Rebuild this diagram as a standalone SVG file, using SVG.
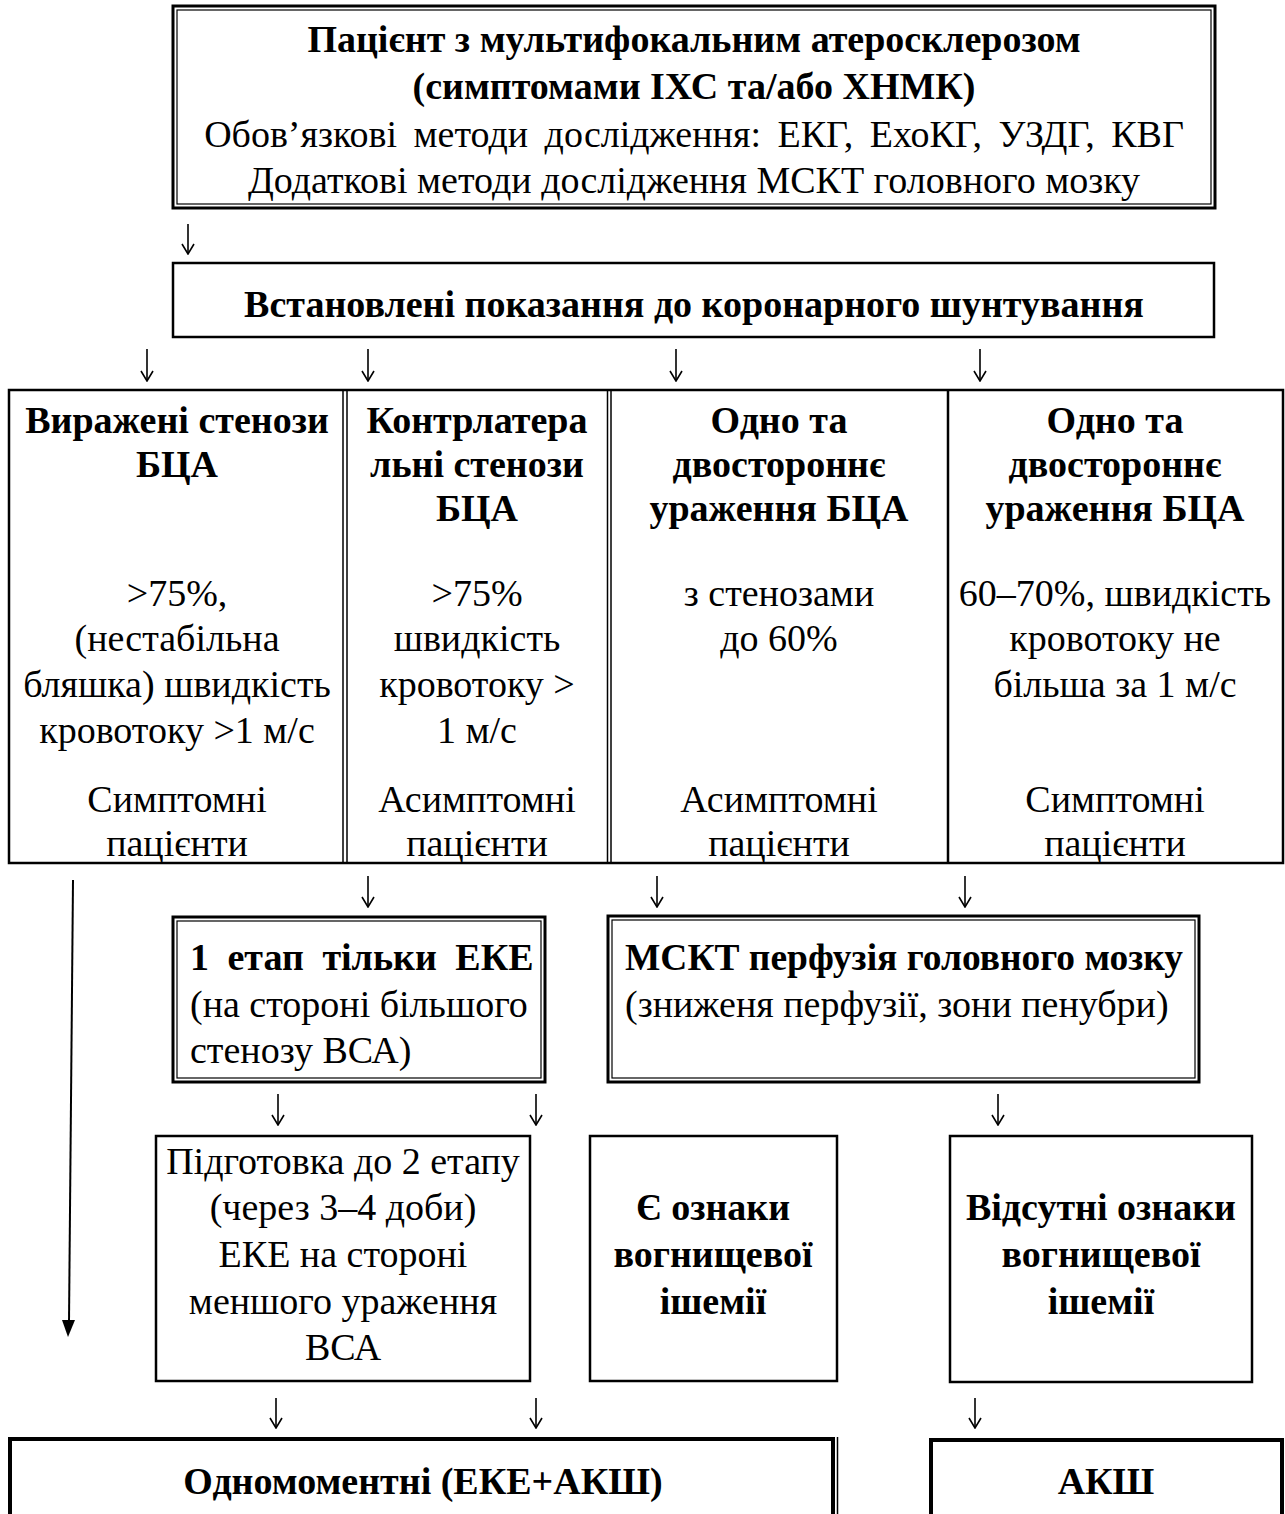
<svg xmlns="http://www.w3.org/2000/svg" width="1285" height="1514" viewBox="0 0 1285 1514">
<defs>
<style>
text{font-family:"Liberation Serif","Times New Roman",serif;font-size:38px;fill:#000}
.b{font-weight:bold}
.c{text-anchor:middle}
.box{fill:none;stroke:#000;stroke-width:2.5}
.thick{fill:none;stroke:#000;stroke-width:3}
.thin{fill:none;stroke:#000;stroke-width:1.2}
.heavy{fill:none;stroke:#000;stroke-width:4}
.arr{fill:none;stroke:#000;stroke-width:1.6}
</style>
<marker id="ah" viewBox="0 0 12 14" refX="11" refY="7" markerWidth="12" markerHeight="14" markerUnits="userSpaceOnUse" orient="auto">
<path d="M1,1 L11,7 L1,13" fill="none" stroke="#000" stroke-width="1.6"/>
</marker>
</defs>
<rect width="1285" height="1514" fill="#fff"/>

<g id="n-patient">
<rect class="thick" x="173" y="6" width="1042" height="202"/>
<rect class="thin" x="177" y="10" width="1034" height="194"/>
<text class="b c" x="694" y="52">Пацієнт з мультифокальним атеросклерозом</text>
<text class="b c" x="694" y="99">(симптомами ІХС та/або ХНМК)</text>
<text class="c" x="694" y="147" word-spacing="7">Обов’язкові методи дослідження: ЕКГ, ЕхоКГ, УЗДГ, КВГ</text>
<text class="c" x="694" y="193">Додаткові методи дослідження МСКТ головного мозку</text>
</g>

<g id="n-indications">
<rect class="box" x="173" y="263" width="1041" height="74"/>
<text class="b c" x="694" y="317">Встановлені показання до коронарного шунтування</text>
</g>

<g id="n-row">
<rect class="box" x="9" y="390" width="1274" height="473"/>
<line x1="343" y1="390" x2="343" y2="863" stroke="#000" stroke-width="1.5"/>
<line x1="347" y1="390" x2="347" y2="863" stroke="#000" stroke-width="1.5"/>
<line x1="607.5" y1="390" x2="607.5" y2="863" stroke="#000" stroke-width="1.5"/>
<line x1="611" y1="390" x2="611" y2="863" stroke="#000" stroke-width="1.5"/>
<line x1="948" y1="390" x2="948" y2="863" stroke="#000" stroke-width="2.5"/>
</g>

<g id="n-col1">
<text class="b c" x="177" y="433">Виражені стенози</text>
<text class="b c" x="177" y="477">БЦА</text>
<text class="c" x="177" y="606">&gt;75%,</text>
<text class="c" x="177" y="651">(нестабільна</text>
<text class="c" x="177" y="697">бляшка) швидкість</text>
<text class="c" x="177" y="743">кровотоку &gt;1 м/с</text>
<text class="c" x="177" y="812">Симптомні</text>
<text class="c" x="177" y="856">пацієнти</text>
</g>

<g id="n-col2">
<text class="b c" x="477" y="433">Контрлатера</text>
<text class="b c" x="477" y="477">льні стенози</text>
<text class="b c" x="477" y="521">БЦА</text>
<text class="c" x="477" y="606">&gt;75%</text>
<text class="c" x="477" y="651">швидкість</text>
<text class="c" x="477" y="697">кровотоку &gt;</text>
<text class="c" x="477" y="743">1 м/с</text>
<text class="c" x="477" y="812">Асимптомні</text>
<text class="c" x="477" y="856">пацієнти</text>
</g>

<g id="n-col3">
<text class="b c" x="779" y="433">Одно та</text>
<text class="b c" x="779" y="477">двостороннє</text>
<text class="b c" x="779" y="521">ураження БЦА</text>
<text class="c" x="779" y="606">з стенозами</text>
<text class="c" x="779" y="651">до 60%</text>
<text class="c" x="779" y="812">Асимптомні</text>
<text class="c" x="779" y="856">пацієнти</text>
</g>

<g id="n-col4">
<text class="b c" x="1115" y="433">Одно та</text>
<text class="b c" x="1115" y="477">двостороннє</text>
<text class="b c" x="1115" y="521">ураження БЦА</text>
<text class="c" x="1115" y="606">60–70%, швидкість</text>
<text class="c" x="1115" y="651">кровотоку не</text>
<text class="c" x="1115" y="697">більша за 1 м/с</text>
<text class="c" x="1115" y="812">Симптомні</text>
<text class="c" x="1115" y="856">пацієнти</text>
</g>

<g id="n-stage1">
<rect class="thick" x="173" y="917" width="372" height="165"/>
<rect class="thin" x="177" y="921" width="364" height="157"/>
<text class="b" x="190" y="970" word-spacing="9">1 етап тільки ЕКЕ</text>
<text x="190" y="1017">(на стороні більшого</text>
<text x="190" y="1063">стенозу ВСА)</text>
</g>

<g id="n-msct">
<rect class="thick" x="608" y="916" width="591" height="166"/>
<rect class="thin" x="612" y="920" width="583" height="158"/>
<text class="b" x="625" y="970" textLength="558" lengthAdjust="spacingAndGlyphs">МСКТ перфузія головного мозку</text>
<text x="625" y="1017">(зниженя перфузії, зони пенубри)</text>
</g>

<g id="n-prep">
<rect class="box" x="156" y="1136" width="374" height="245"/>
<text class="c" x="343" y="1174">Підготовка до 2 етапу</text>
<text class="c" x="343" y="1220">(через 3–4 доби)</text>
<text class="c" x="343" y="1267">ЕКЕ на стороні</text>
<text class="c" x="343" y="1314">меншого ураження</text>
<text class="c" x="343" y="1360">ВСА</text>
</g>

<g id="n-yes">
<rect class="box" x="590" y="1136" width="247" height="245"/>
<text class="b c" x="713" y="1220">Є ознаки</text>
<text class="b c" x="713" y="1267">вогнищевої</text>
<text class="b c" x="713" y="1314">ішемії</text>
</g>

<g id="n-no">
<rect class="box" x="950" y="1136" width="302" height="246"/>
<text class="b c" x="1101" y="1220">Відсутні ознаки</text>
<text class="b c" x="1101" y="1267">вогнищевої</text>
<text class="b c" x="1101" y="1314">ішемії</text>
</g>

<g id="n-simult">
<rect class="heavy" x="10" y="1439" width="823" height="100"/>
<line x1="837.5" y1="1437" x2="837.5" y2="1514" stroke="#000" stroke-width="1.5"/>
<text class="b c" x="423" y="1494">Одномоментні (ЕКЕ+АКШ)</text>
</g>

<g id="n-cabg">
<rect class="heavy" x="931" y="1440" width="351" height="100"/>
<text class="b c" x="1106" y="1494">АКШ</text>
</g>

<g id="connectors">
<line class="arr" x1="188" y1="224" x2="188" y2="254" marker-end="url(#ah)"/>
<line class="arr" x1="147" y1="349" x2="147" y2="381" marker-end="url(#ah)"/>
<line class="arr" x1="368" y1="349" x2="368" y2="381" marker-end="url(#ah)"/>
<line class="arr" x1="676" y1="349" x2="676" y2="381" marker-end="url(#ah)"/>
<line class="arr" x1="980" y1="349" x2="980" y2="381" marker-end="url(#ah)"/>
<line class="arr" x1="368" y1="876" x2="368" y2="907" marker-end="url(#ah)"/>
<line class="arr" x1="657" y1="876" x2="657" y2="907" marker-end="url(#ah)"/>
<line class="arr" x1="965" y1="876" x2="965" y2="907" marker-end="url(#ah)"/>
<line class="arr" x1="278" y1="1094" x2="278" y2="1125" marker-end="url(#ah)"/>
<line class="arr" x1="536" y1="1094" x2="536" y2="1125" marker-end="url(#ah)"/>
<line class="arr" x1="998" y1="1094" x2="998" y2="1125" marker-end="url(#ah)"/>
<line class="arr" x1="276" y1="1398" x2="276" y2="1428" marker-end="url(#ah)"/>
<line class="arr" x1="536" y1="1398" x2="536" y2="1428" marker-end="url(#ah)"/>
<line class="arr" x1="975" y1="1398" x2="975" y2="1428" marker-end="url(#ah)"/>
<line x1="73" y1="880" x2="69" y2="1322" stroke="#000" stroke-width="2"/>
<path d="M62,1320 L75,1320 L68,1337 Z" fill="#000"/>
</g>
</svg>
